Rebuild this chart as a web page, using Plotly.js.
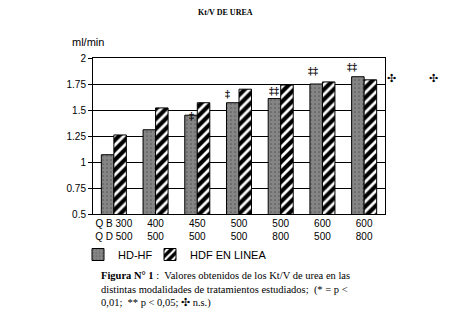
<!DOCTYPE html>
<html>
<head>
<meta charset="utf-8">
<script src="https://cdn.plot.ly/plotly-3.0.1.min.js"></script>
<style>html,body{margin:0;padding:0;background:#fff;}#chart{width:450px;height:313px;}</style>
</head>
<body>
<div id="chart"></div>
<script>
// Data
const categoryIndex = [0, 1, 2, 3, 4, 5, 6];
const qbLabels = ["Q B 300", "400", "450", "500", "500", "600", "600"];
const qdLabels = ["Q D 500", "500", "500", "500", "800", "500", "800"];
const hdhf = [1.07, 1.31, 1.45, 1.57, 1.61, 1.75, 1.82];
const hdfEnLinea = [1.26, 1.52, 1.57, 1.70, 1.74, 1.77, 1.79];
const significance = ["", "", "‡", "‡", "‡‡", "‡‡", "‡‡"];
const seriesNames = ["HD-HF", "HDF EN LINEA"];

const tickText = qbLabels.map((q, i) => q + "<br>" + qdLabels[i]);

const traces = [
  {
    type: "bar", name: seriesNames[0], x: categoryIndex, y: hdhf, legend: "legend",
    marker: {
      color: "#808080",
      line: {color: "#000", width: 1},
      pattern: {shape: ".", fgcolor: "#5a5a5a", bgcolor: "#858585", size: 4, solidity: 0.15}
    }
  },
  {
    type: "bar", name: seriesNames[1], x: categoryIndex, y: hdfEnLinea, legend: "legend2",
    marker: {
      color: "#000",
      line: {color: "#000", width: 1},
      pattern: {shape: "/", fgcolor: "#fff", bgcolor: "#000", size: 7, solidity: 0.4}
    }
  }
];

const sigShifts = [[0,0],[0,0],[0,-2],[-5,8],[0,7],[-3,12],[-6,9]];
const annotations = [];
significance.forEach((s, i) => {
  if (!s) return;
  annotations.push({
    x: categoryIndex[i] - 0.15, y: hdhf[i], xref: "x", yref: "y",
    text: "<b>" + s + "</b>", showarrow: false, yanchor: "bottom",
    xshift: sigShifts[i][0], yshift: sigShifts[i][1] - 6,
    font: {family: "Liberation Serif", size: 10, color: "#000"}
  });
});
annotations.push(
  {x: 398, y: 70, xref: "paper", yref: "paper", text: "✣", showarrow: false},
  {x: 440, y: 70, xref: "paper", yref: "paper", text: "✣", showarrow: false}
);

const W = 450, H = 313;
const ml = 93, mr = 65, mt = 58, mb = 99;
const pw = W - ml - mr, ph = H - mt - mb;
function px(x) { return (x - ml) / pw; }
function py(y) { return (H - mb - y) / ph; }
annotations.forEach(a => {
  if (a.xref === "paper") {
    a.x = px(a.x); a.y = py(a.y);
    a.font = {family: "DejaVu Sans", size: 11, color: "#000"};
  }
});

annotations.push(
  {x: px(225), y: py(6), xref: "paper", yref: "paper", showarrow: false,
   text: "<b>Kt/V DE UREA</b>", font: {family: "Liberation Serif", size: 8, color: "#000"}},
  {x: px(70), y: py(34), xref: "paper", yref: "paper", showarrow: false,
   text: "ml/min", font: {family: "Liberation Sans", size: 11, color: "#000"}},
  {x: px(99), y: py(268), xref: "paper", yref: "paper", showarrow: false,
   xanchor: "left", yanchor: "top", align: "left",
   text: "<b>Figura N° 1</b> :  Valores obtenidos de los Kt/V de urea en las<br>distintas modalidades de tratamientos estudiados;  (* = p &lt;<br>0,01;  ** p &lt; 0,05; ✣ n.s.)",
   font: {family: "Liberation Serif", size: 10.5, color: "#000"}}
);

const legendBase = {
  orientation: "h", xanchor: "left", yanchor: "top", y: py(240),
  font: {family: "Liberation Sans", size: 11, color: "#000"},
  itemwidth: 30, bgcolor: "rgba(0,0,0,0)"
};

const layout = {
  width: W, height: H,
  margin: {l: ml, r: mr, t: mt, b: mb, pad: 0},
  paper_bgcolor: "#fff", plot_bgcolor: "#fff",
  barmode: "group", bargap: 0.4, bargroupgap: 0,
  showlegend: true,
  legend: Object.assign({}, legendBase, {x: px(78)}),
  legend2: Object.assign({}, legendBase, {x: px(150)}),
  xaxis: {
    type: "linear", range: [-0.5, 6.5], tickvals: categoryIndex, ticktext: tickText,
    showgrid: false, zeroline: false, showline: true, linecolor: "#000", linewidth: 1,
    mirror: true, ticks: "", tickfont: {family: "Liberation Sans", size: 10, color: "#000"}
  },
  yaxis: {
    range: [0.5, 2], dtick: 0.25, tick0: 0.5, showgrid: true, gridcolor: "#000", gridwidth: 1,
    zeroline: false, showline: true, linecolor: "#000", linewidth: 1, mirror: true,
    ticks: "outside", ticklen: 4, tickcolor: "#000",
    tickfont: {family: "Liberation Sans", size: 10, color: "#000"}
  },
  annotations: annotations
};

Plotly.newPlot("chart", traces, layout, {staticPlot: true, displayModeBar: false});
</script>
</body>
</html>
